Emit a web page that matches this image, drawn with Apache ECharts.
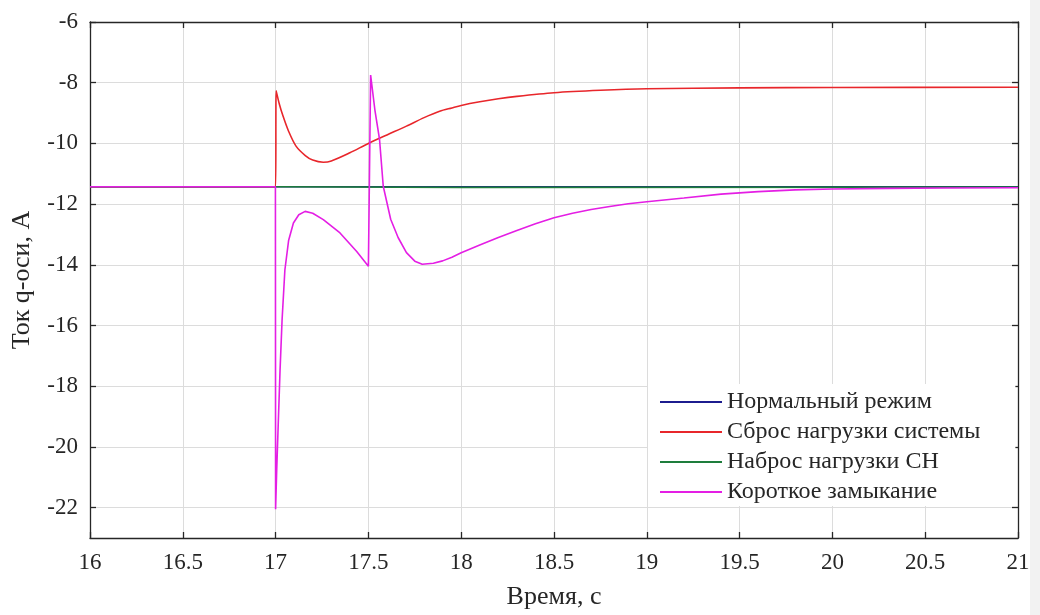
<!DOCTYPE html>
<html>
<head>
<meta charset="utf-8">
<script src="https://cdn.jsdelivr.net/npm/echarts@6/dist/echarts.min.js"></script>
<style>
html,body{margin:0;padding:0;background:#fff;}
#chart{width:1040px;height:615px;}
</style>
</head>
<body>
<div id="chart"></div>
<script>
// ---- data ----
const seriesNames = ['Нормальный режим', 'Сброс нагрузки системы', 'Наброс нагрузки СН', 'Короткое замыкание'];
const xTicks = [16, 16.5, 17, 17.5, 18, 18.5, 19, 19.5, 20, 20.5, 21];
const yTicks = [-22, -20, -18, -16, -14, -12, -10, -8, -6];

const normalMode = [[16, -11.43], [21, -11.43]];

const loadShedding = [
  [16, -11.43], [17.0, -11.43], [17.003, -8.27], [17.02, -8.7], [17.04, -9.1], [17.07, -9.6],
  [17.11, -10.09], [17.16, -10.4], [17.2, -10.55], [17.257, -10.62], [17.3, -10.58],
  [17.4, -10.31], [17.5, -10.0], [17.6, -9.72], [17.705, -9.43], [17.8, -9.15],
  [17.884, -8.94], [17.95, -8.83], [18.0, -8.75], [18.1, -8.63], [18.2, -8.53],
  [18.3, -8.45], [18.5, -8.33], [18.75, -8.25], [19, -8.2], [19.5, -8.17], [20, -8.16], [21, -8.15]
];

const loadSurge = [[16, -11.43], [17.0, -11.43], [17.01, -11.46], [18, -11.45], [21, -11.44]];

const shortCircuit = [
  [16, -11.43], [16.999, -11.43], [17.0, -22.05], [17.006, -20.76], [17.015, -19.1],
  [17.024, -17.47], [17.035, -15.8], [17.05, -14.17], [17.07, -13.2], [17.096, -12.62],
  [17.125, -12.35], [17.159, -12.24], [17.2, -12.3], [17.257, -12.51], [17.347, -12.95],
  [17.437, -13.56], [17.5, -14.05], [17.512, -7.75], [17.535, -8.9], [17.56, -9.87],
  [17.58, -11.41], [17.62, -12.5], [17.66, -13.1], [17.705, -13.6], [17.75, -13.88],
  [17.79, -13.98], [17.85, -13.95], [17.9, -13.87], [17.95, -13.75], [18.0, -13.6],
  [18.1, -13.35], [18.2, -13.1], [18.3, -12.87], [18.4, -12.65], [18.5, -12.45],
  [18.6, -12.3], [18.7, -12.18], [18.8, -12.08], [18.9, -11.99], [19.0, -11.92],
  [19.2, -11.8], [19.4, -11.67], [19.6, -11.59], [19.8, -11.53], [20.0, -11.5],
  [20.3, -11.48], [20.6, -11.47], [21, -11.46]
];

const colors = ['#1c1c8e', '#e8262b', '#1e7d3c', '#e41ee4'];

// ---- chart ----
const FONT = 'Liberation Serif';
const TXT = '#262626';
const chart = echarts.init(document.getElementById('chart'), null, {renderer: 'canvas'});

const frameLine = {show: true, onZero: false, lineStyle: {color: '#262626', width: 1.3}};
const tickIn = (vals) => ({show: true, inside: true, length: 6, customValues: vals, lineStyle: {color: '#262626', width: 1.3}});

const option = {
  backgroundColor: '#ffffff',
  animation: false,
  color: colors,
  graphic: [
    {type: 'rect', right: 0, top: 0, shape: {width: 10, height: 615}, style: {fill: '#f2f2f2'}, silent: true}
  ],
  grid: {left: 90, top: 22, right: 22, bottom: 77, containLabel: false},
  legend: {
    orient: 'vertical',
    left: 648,
    top: 384,
    backgroundColor: '#ffffff',
    borderWidth: 0,
    padding: [6, 35, 2, 12],
    icon: 'rect',
    itemWidth: 62,
    itemHeight: 2,
    itemGap: 6,
    textStyle: {fontFamily: FONT, fontSize: 24, color: TXT},
    data: seriesNames
  },
  xAxis: [
    {
      type: 'value', min: 16, max: 21, interval: 0.5, position: 'bottom',
      name: 'Время, с', nameLocation: 'middle', nameGap: 46,
      nameTextStyle: {fontFamily: FONT, fontSize: 26, color: TXT},
      axisLine: frameLine,
      axisTick: tickIn(xTicks),
      axisLabel: {customValues: xTicks, fontFamily: FONT, fontSize: 23, color: TXT, margin: 13},
      splitLine: {show: true, lineStyle: {color: '#dcdcdc', width: 1}}
    },
    {
      type: 'value', min: 16, max: 21, interval: 0.5, position: 'top',
      axisLine: frameLine, axisTick: tickIn(xTicks), axisLabel: {show: false}, splitLine: {show: false}
    }
  ],
  yAxis: [
    {
      type: 'value', min: -23, max: -6, interval: 1, position: 'left',
      name: 'Ток q-оси, А', nameLocation: 'middle', nameGap: 55, nameRotate: 90,
      nameTextStyle: {fontFamily: FONT, fontSize: 26, color: TXT},
      axisLine: frameLine,
      axisTick: tickIn(yTicks),
      axisLabel: {customValues: yTicks, fontFamily: FONT, fontSize: 23, color: TXT, margin: 12},
      splitLine: {show: true, lineStyle: {color: '#dcdcdc', width: 1}}
    },
    {
      type: 'value', min: -23, max: -6, interval: 1, position: 'right',
      axisLine: frameLine, axisTick: tickIn(yTicks), axisLabel: {show: false}, splitLine: {show: false}
    }
  ],
  series: [
    {name: seriesNames[0], type: 'line', data: normalMode, symbol: 'none', lineStyle: {width: 1.6}, z: 2},
    {name: seriesNames[1], type: 'line', data: loadShedding, symbol: 'none', smooth: 0.3, lineStyle: {width: 1.6}, z: 3},
    {name: seriesNames[2], type: 'line', data: loadSurge, symbol: 'none', lineStyle: {width: 1.6}, z: 4},
    {name: seriesNames[3], type: 'line', data: shortCircuit, symbol: 'none', lineStyle: {width: 1.6}, z: 5}
  ]
};
chart.setOption(option);
</script>
</body>
</html>
